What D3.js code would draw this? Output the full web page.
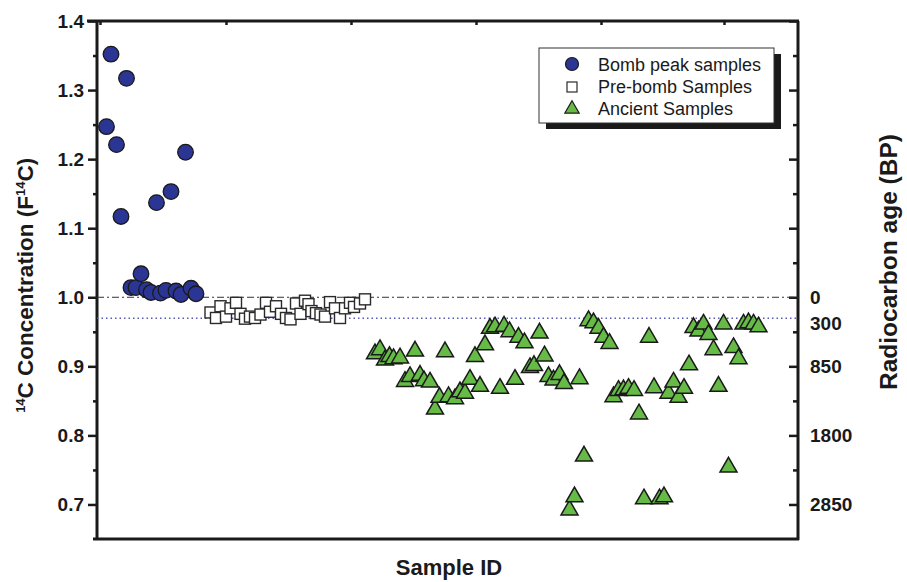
<!DOCTYPE html>
<html>
<head>
<meta charset="utf-8">
<script src="https://cdn.jsdelivr.net/npm/d3@7"></script>
<style>
  body { margin: 0; background: #fff; }
  text { font-family: "Liberation Sans", Arial, Helvetica, sans-serif; }
  .tick text { font-weight: bold; font-size: 19px; fill: #1a1a1a; }
  .tick line { stroke: #1a1a1a; stroke-width: 2.5; }
  .domain { display: none; }
</style>
</head>
<body>
<div id="chart"></div>
<script>
// sample ID and F14C values
var bombId = [2.1, 3.0, 4.1, 5.0, 6.1, 7.0, 8.0, 9.0, 10.1, 11.0, 12.1, 12.9, 14.0, 15.0, 16.0, 17.0, 17.9, 19.0, 20.0];
var bombF = [1.247, 1.352, 1.221, 1.117, 1.317, 1.014, 1.014, 1.034, 1.011, 1.007, 1.137, 1.006, 1.010, 1.153, 1.009, 1.004, 1.210, 1.013, 1.005];

var preId = [22.9, 24.0, 24.9, 26.0, 26.9, 28.0, 28.9, 29.8, 30.8, 31.8, 32.9, 34.0, 34.8, 36.0, 37.0, 38.0, 38.9,
  40.0, 40.9, 41.8, 42.5, 43.1, 44.0, 44.9, 45.8, 46.8, 47.8, 48.8, 49.8, 50.8, 51.6, 52.8, 53.8];
var preF = [0.978, 0.970, 0.987, 0.972, 0.984, 0.992, 0.976, 0.969, 0.972, 0.970, 0.975, 0.992, 0.979, 0.987, 0.976, 0.970, 0.968,
  0.991, 0.976, 0.995, 0.990, 0.980, 0.977, 0.975, 0.972, 0.993, 0.984, 0.970, 0.984, 0.992, 0.986, 0.991, 0.997];

var ancId = [55.8, 56.8, 57.8, 58.7, 59.5, 60.8, 61.8, 62.8, 63.8, 64.8, 65.6, 66.8, 67.8, 68.7, 69.8, 70.5, 71.8, 72.8, 73.8,
  74.8, 75.8, 76.8, 77.8, 78.8, 79.8, 80.8, 81.6, 82.7, 83.8, 84.5, 85.7, 86.8, 87.6, 88.7, 89.7, 90.5, 91.5, 92.7, 93.6,
  94.7, 95.7, 96.7, 97.6, 98.5, 99.5, 100.5, 101.5, 102.7, 103.5, 104.5, 105.5, 106.5, 107.6, 108.6, 109.6, 110.6, 111.6,
  112.7, 113.6, 114.5, 115.5, 116.5, 117.6, 118.6, 119.5, 120.5, 121.5, 122.5, 123.5, 124.5, 125.5, 126.5, 127.5, 128.5,
  129.5, 130.5, 131.5, 132.5];
var ancF = [0.918, 0.924, 0.909, 0.914, 0.911, 0.912, 0.878, 0.885, 0.922, 0.887, 0.879, 0.877, 0.838, 0.855, 0.921, 0.856,
  0.853, 0.863, 0.861, 0.881, 0.914, 0.871, 0.931, 0.955, 0.957, 0.868, 0.958, 0.950, 0.881, 0.942, 0.934, 0.898, 0.901,
  0.948, 0.915, 0.885, 0.880, 0.888, 0.875, 0.692, 0.711, 0.882, 0.770, 0.966, 0.963, 0.955, 0.942, 0.933, 0.856, 0.865,
  0.866, 0.868, 0.865, 0.831, 0.708, 0.942, 0.869, 0.708, 0.711, 0.861, 0.877, 0.855, 0.868, 0.902, 0.956, 0.951, 0.961,
  0.946, 0.924, 0.871, 0.961, 0.754, 0.927, 0.911, 0.961, 0.963, 0.961, 0.957];

// axis ticks
var majorTicks = [0.7, 0.8, 0.9, 1.0, 1.1, 1.2, 1.3, 1.4];
var minorTicks = [0.75, 0.85, 0.95, 1.05, 1.15, 1.25, 1.35];
var ageTickF = [1.0, 0.962, 0.9, 0.8, 0.7];
var ageLabels = ["0", "300", "850", "1800", "2850"];
var topTicks = [0.8, 26, 51, 76, 101, 125.6];

// reference lines (modern = 1.0, 300 BP level)
var modernF = 1.0;
var levelF = 0.9696;

var legendNames = ["Bomb peak samples", "Pre-bomb Samples", "Ancient Samples"];

var svgWidth = 907;
var svgHeight = 582;
var margin = { top: 21, right: 109, bottom: 43, left: 97 };
var width = svgWidth - margin.left - margin.right;
var height = svgHeight - margin.top - margin.bottom;

var svg = d3.select("#chart")
  .append("svg")
  .attr("width", svgWidth)
  .attr("height", svgHeight);

var chartGroup = svg.append("g")
  .attr("transform", `translate(${margin.left}, ${margin.top})`);

var xScale = d3.scaleLinear().domain([0.2, 140.4]).range([0, width]);
var yScale = d3.scaleLinear().domain([0.65, 1.4]).range([height, 0]);

// left axis: majors with labels, minors without
chartGroup.append("g")
  .call(d3.axisLeft(yScale).tickValues(majorTicks).tickSize(9).tickPadding(4).tickFormat(d3.format(".1f")));
chartGroup.append("g")
  .call(d3.axisLeft(yScale).tickValues(minorTicks).tickSize(4).tickFormat(""));

// right axis ticks point inward
var right = chartGroup.append("g").attr("transform", `translate(${width}, 0)`);
right.append("g")
  .call(d3.axisLeft(yScale).tickValues(majorTicks).tickSize(9).tickFormat(""));
right.append("g")
  .call(d3.axisLeft(yScale).tickValues(minorTicks).tickSize(5).tickFormat(""));
right.append("g")
  .call(d3.axisRight(yScale).tickValues(ageTickF).tickSize(0).tickPadding(12)
    .tickFormat((d, i) => ageLabels[i]));

// small ticks on top edge
chartGroup.append("g")
  .call(d3.axisBottom(xScale).tickValues(topTicks).tickSize(4).tickFormat(""))
  .selectAll("line").attr("stroke-width", 2);

// frame
var frame = chartGroup.append("g").attr("stroke", "#1a1a1a").attr("stroke-width", 3).attr("fill", "none");
frame.append("line").attr("x1", -10).attr("x2", width + 1).attr("y1", 0).attr("y2", 0);
frame.append("line").attr("x1", 0).attr("x2", 0).attr("y1", 0).attr("y2", height);
frame.append("line").attr("x1", width).attr("x2", width).attr("y1", 0).attr("y2", height + 1);
frame.append("line").attr("x1", -4).attr("x2", width + 1).attr("y1", height).attr("y2", height);

// reference lines
chartGroup.append("line")
  .attr("x1", 0).attr("x2", width)
  .attr("y1", yScale(modernF)).attr("y2", yScale(modernF))
  .attr("stroke", "#333").attr("stroke-width", 1)
  .attr("stroke-dasharray", "7,3,2,3");
chartGroup.append("line")
  .attr("x1", 0).attr("x2", width)
  .attr("y1", yScale(levelF)).attr("y2", yScale(levelF))
  .attr("stroke", "#5a5ab4").attr("stroke-width", 1.5)
  .attr("stroke-dasharray", "1.5,3");

// ancient samples (triangles)
var triangle = d3.symbol().type(d3.symbolTriangle).size(125);
chartGroup.selectAll(".anc")
  .data(ancId)
  .enter()
  .append("path")
  .attr("d", triangle)
  .attr("transform", (d, i) => `translate(${xScale(d)}, ${yScale(ancF[i])})`)
  .attr("fill", "#66bb47")
  .attr("stroke", "#1a1a1a")
  .attr("stroke-width", 1.5);

// pre-bomb samples (squares)
chartGroup.selectAll(".pre")
  .data(preId)
  .enter()
  .append("rect")
  .attr("x", d => xScale(d) - 5.5)
  .attr("y", (d, i) => yScale(preF[i]) - 5.5)
  .attr("width", 11)
  .attr("height", 11)
  .attr("fill", "#fff")
  .attr("stroke", "#2a2a2a")
  .attr("stroke-width", 1.4);

// bomb peak samples (circles)
chartGroup.selectAll(".bomb")
  .data(bombId)
  .enter()
  .append("circle")
  .attr("cx", d => xScale(d))
  .attr("cy", (d, i) => yScale(bombF[i]))
  .attr("r", 7.8)
  .attr("fill", "#2b3593")
  .attr("stroke", "#1a1a1a")
  .attr("stroke-width", 1.3);

// legend
var legend = svg.append("g").attr("transform", "translate(539, 48)");
legend.append("rect").attr("x", 7).attr("y", 6).attr("width", 235).attr("height", 75).attr("fill", "#1a1a1a");
legend.append("rect").attr("width", 235).attr("height", 75).attr("fill", "#fff").attr("stroke", "#333").attr("stroke-width", 1);
legend.append("circle").attr("cx", 33).attr("cy", 16).attr("r", 6.5)
  .attr("fill", "#2b3593").attr("stroke", "#1a1a1a").attr("stroke-width", 1.2);
legend.append("rect").attr("x", 28).attr("y", 34).attr("width", 10).attr("height", 10)
  .attr("fill", "#fff").attr("stroke", "#2a2a2a").attr("stroke-width", 1.2);
legend.append("path").attr("d", d3.symbol().type(d3.symbolTriangle).size(90))
  .attr("transform", "translate(33, 61)")
  .attr("fill", "#66bb47").attr("stroke", "#1f1f1f").attr("stroke-width", 1.2);
legend.selectAll(".leg")
  .data(legendNames)
  .enter()
  .append("text")
  .attr("x", 59)
  .attr("y", (d, i) => 23 + i * 22)
  .attr("font-size", "18px")
  .attr("fill", "#1a1a1a")
  .text(d => d);

// axis labels
var yLabel = svg.append("text")
  .attr("transform", `translate(33, ${margin.top + yScale(1.0) - 12}) rotate(-90)`)
  .attr("text-anchor", "middle")
  .attr("font-size", "22.5px")
  .attr("font-weight", "bold")
  .attr("fill", "#1a1a1a");
yLabel.append("tspan").attr("font-size", "13px").attr("dy", "-8").text("14");
yLabel.append("tspan").attr("dy", "8").text("C Concentration  (F");
yLabel.append("tspan").attr("font-size", "13px").attr("dy", "-8").text("14");
yLabel.append("tspan").attr("dy", "8").text("C)");

svg.append("text")
  .attr("transform", "translate(897, 262) rotate(-90)")
  .attr("text-anchor", "middle")
  .attr("font-size", "24.5px")
  .attr("font-weight", "bold")
  .attr("fill", "#1a1a1a")
  .text("Radiocarbon age (BP)");

svg.append("text")
  .attr("x", 449)
  .attr("y", 575)
  .attr("text-anchor", "middle")
  .attr("font-size", "22px")
  .attr("font-weight", "bold")
  .attr("fill", "#1a1a1a")
  .text("Sample ID");
</script>
</body>
</html>
